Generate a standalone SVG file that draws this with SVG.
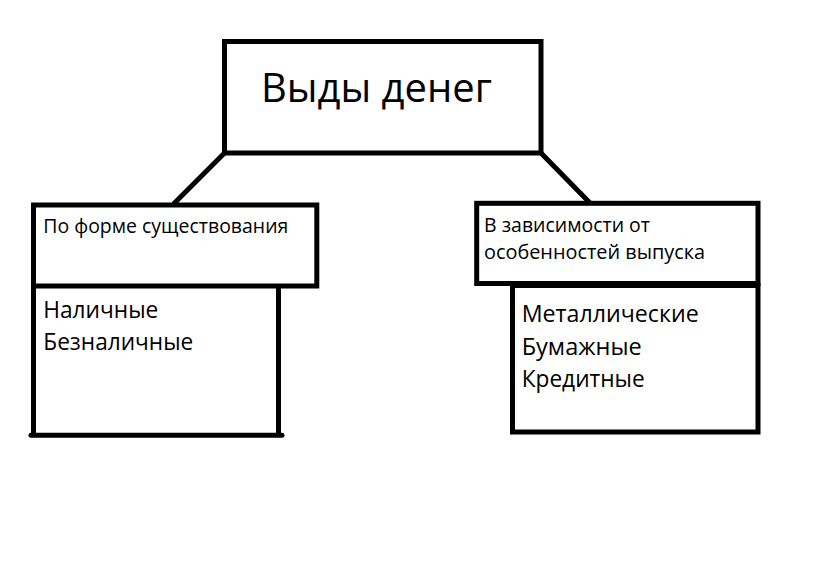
<svg xmlns="http://www.w3.org/2000/svg" width="829" height="562" viewBox="0 0 829 562">
<style>
.box{fill:none;stroke:#000;stroke-width:5;stroke-linejoin:miter}
.ln{stroke:#000;stroke-width:5;fill:none}
.t{font-family:"Open Sans","Noto Sans","DejaVu Sans",sans-serif;fill:#000}
.title{font-size:41px}
.s{font-size:20px}
.m{font-size:24px}
</style>
<rect width="829" height="562" fill="#fff"/>
<g id="connectors">
<line class="ln" x1="224.5" y1="153" x2="173.5" y2="204"/>
<line class="ln" x1="541" y1="153" x2="590" y2="203"/>
</g>
<g id="root">
<rect class="box" x="224.5" y="41.5" width="316.5" height="111.5"/>
<text class="t title" x="261" y="102" textLength="231" lengthAdjust="spacingAndGlyphs">Выды денег</text>
</g>
<g id="form">
<rect class="box" x="33.5" y="205" width="283.3" height="81"/>
<text class="t s" x="43.3" y="232.5" textLength="245" lengthAdjust="spacingAndGlyphs">По форме существования</text>
</g>
<g id="form-items">
<polyline class="ln" points="33.5,286 33.5,435.3"/>
<polyline class="ln" points="278.5,286 278.5,435.3"/>
<line class="ln" x1="31" y1="435.3" x2="282" y2="435.3" stroke-linecap="round"/>
<text class="t m" x="43.3" y="318.3" textLength="115" lengthAdjust="spacingAndGlyphs">Наличные</text>
<text class="t m" x="43.3" y="350" textLength="150" lengthAdjust="spacingAndGlyphs">Безналичные</text>
</g>
<g id="issue">
<rect class="box" x="476.7" y="203.3" width="281.3" height="80.2"/>
<text class="t s" x="484" y="231.5" textLength="166" lengthAdjust="spacingAndGlyphs">В зависимости от</text>
<text class="t s" x="484" y="259" textLength="221" lengthAdjust="spacingAndGlyphs">особенностей выпуска</text>
</g>
<g id="issue-items">
<rect class="box" x="512.5" y="285.5" width="245.5" height="146.5"/>
<text class="t m" x="521.7" y="321.7" textLength="177" lengthAdjust="spacingAndGlyphs">Металлические</text>
<text class="t m" x="521.7" y="355" textLength="120" lengthAdjust="spacingAndGlyphs">Бумажные</text>
<text class="t m" x="521.7" y="386.7" textLength="123" lengthAdjust="spacingAndGlyphs">Кредитные</text>
</g>
</svg>
